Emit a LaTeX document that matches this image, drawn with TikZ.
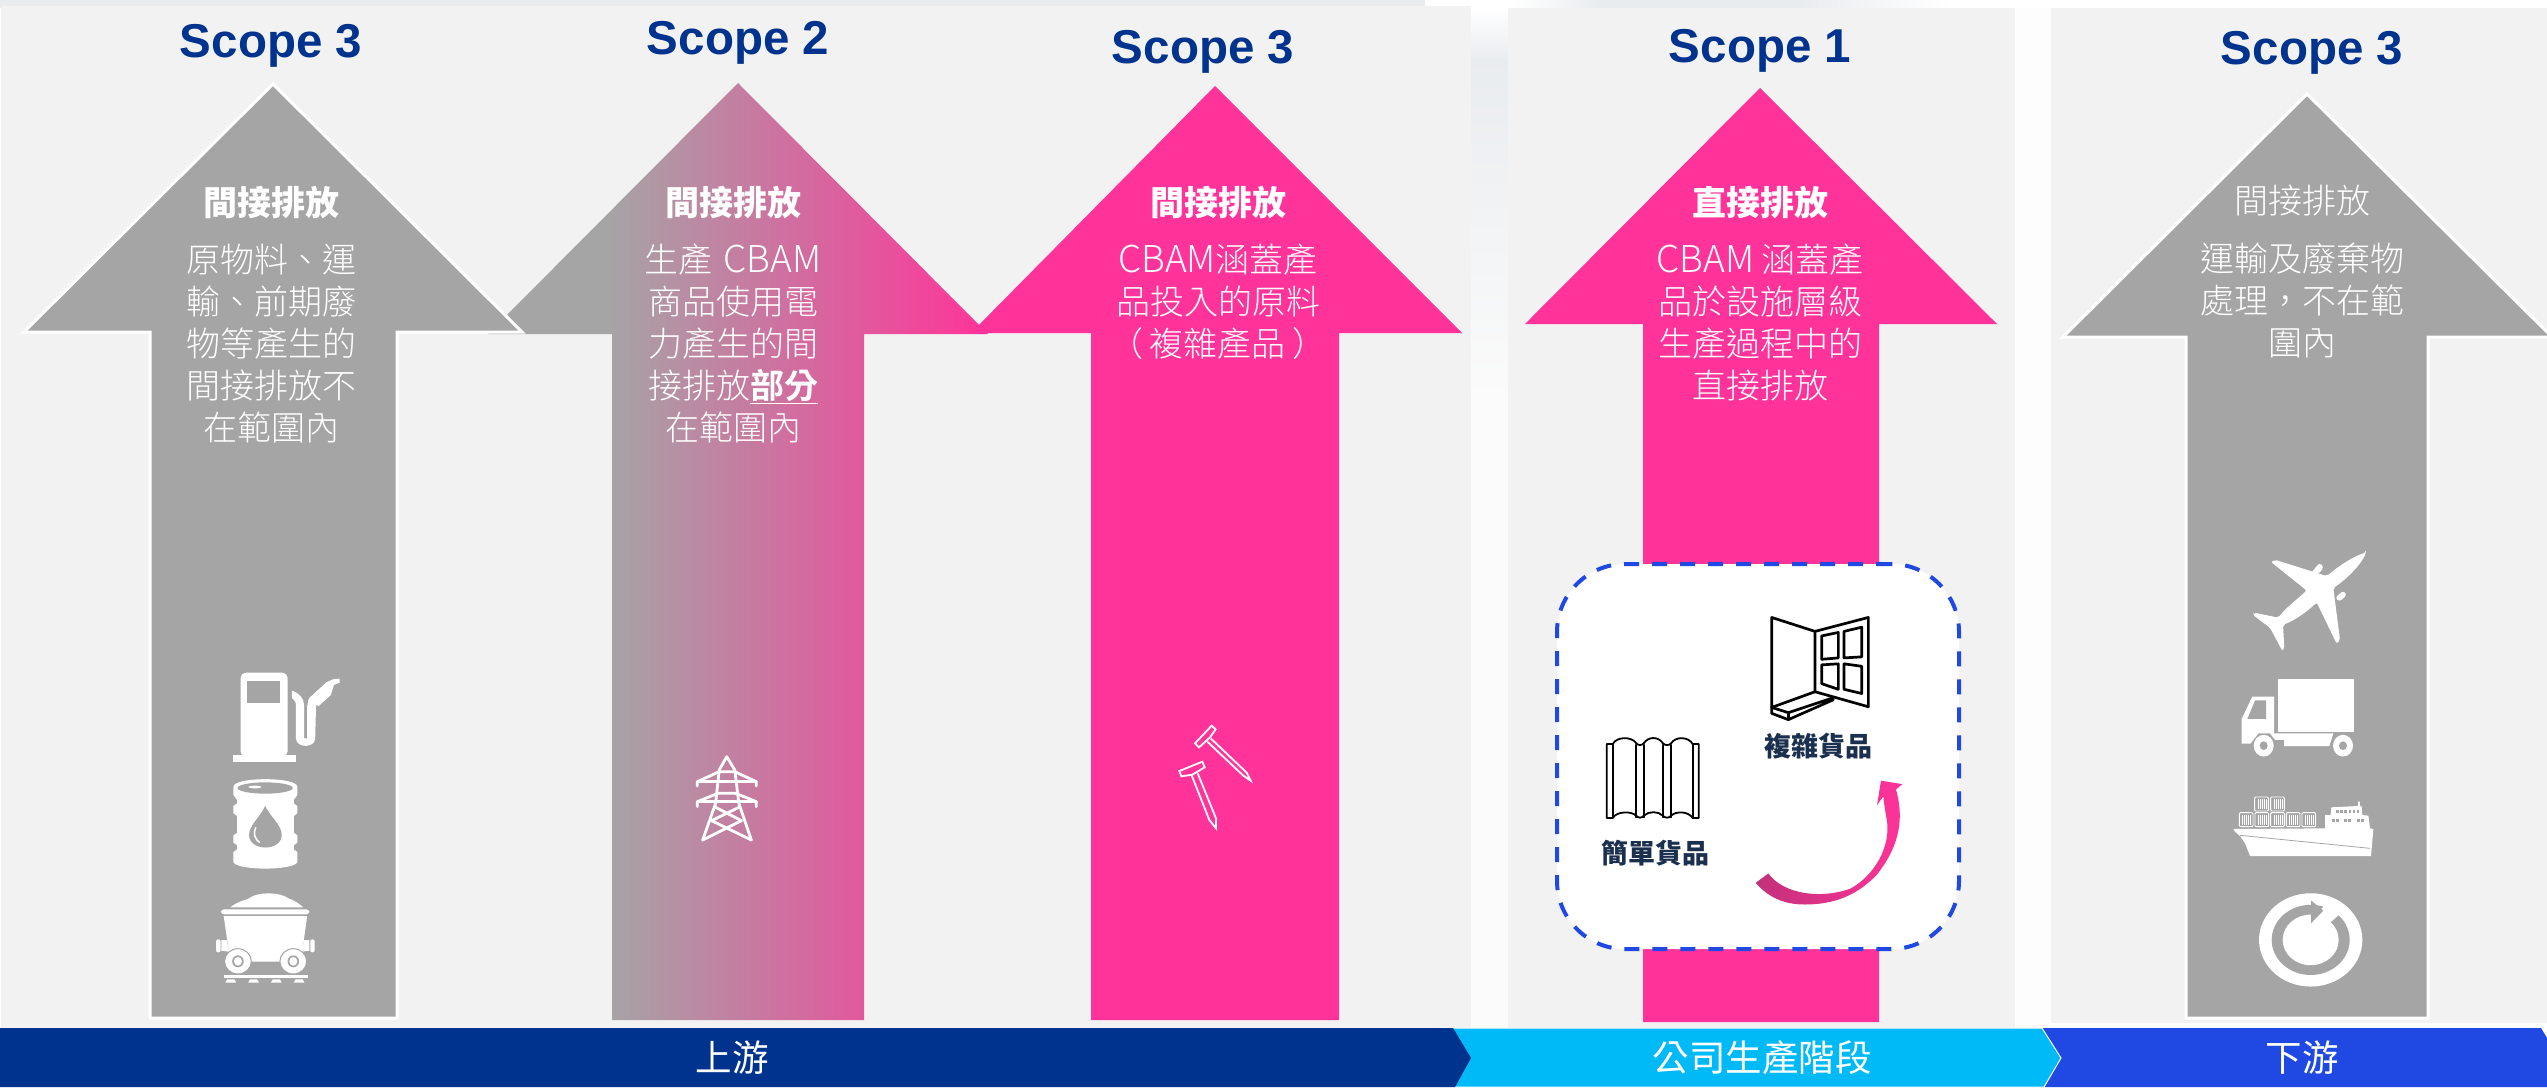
\documentclass[tikz,border=0pt]{standalone}
\usepackage{fontspec}
\setmainfont{Noto Sans CJK TC}
\newfontfamily\thinfont{Noto Sans CJK TC Light}
\newfontfamily\scopefont{Liberation Sans}
\definecolor{navy}{HTML}{00338D}
\definecolor{sky}{HTML}{00B9F7}
\definecolor{royal}{HTML}{1F49E2}
\definecolor{gy}{HTML}{A5A5A5}
\definecolor{pk}{HTML}{FF3399}
\definecolor{pale}{HTML}{F2F2F2}
\definecolor{ink}{HTML}{1B2F4E}
\definecolor{mist}{HTML}{E9ECEF}
\newcommand{\cbamword}{{\fontsize{37}{42}\selectfont CBAM}}
\pgfdeclarehorizontalshading{gypk}{100bp}{color(0bp)=(gy);color(37bp)=(gy);color(75bp)=(pk);color(100bp)=(pk)}
\tikzset{
  scopelabel/.style={anchor=base,inner sep=0pt,text=navy,font=\scopefont\bfseries\fontsize{47.5}{50}\selectfont},
  headtext/.style={anchor=center,inner sep=0pt,text=white,font=\bfseries\fontsize{34}{42}\selectfont},
  headthin/.style={anchor=center,inner sep=0pt,text=white,font=\thinfont\fontsize{34}{42}\selectfont},
  bodytext/.style={anchor=north,inner sep=0pt,text=white,align=center,font=\thinfont\fontsize{34}{42}\selectfont},
  barlabel/.style={anchor=center,inner sep=0pt,text=white,font=\fontsize{36.5}{40}\selectfont},
  goodslabel/.style={anchor=center,inner sep=0pt,text=ink,font=\bfseries\fontsize{27}{30}\selectfont},
  icon/.style={fill=white,draw=none},
  iconline/.style={draw=white,line width=3pt,line cap=round,line join=round},
  blackline/.style={draw=black,line join=round,line cap=round},
  cutout/.style={fill=gy,draw=none},
}
\begin{document}
\begin{tikzpicture}[x=1pt,y=-1pt]
\useasboundingbox (0,0) rectangle (2547,1087);
\fill[white] (0,0) rectangle (2547,1087);
% top strip and panels
\fill[mist] (0,0) rectangle (1425,8);
\shade[left color=white,right color=mist] (1510,0) rectangle (1600,8);
\fill[mist] (1600,0) rectangle (1800,8);
\shade[left color=mist,right color=white] (1800,0) rectangle (1950,8);
\fill[pale] (1,6) rectangle (1471,1028);
\shade[top color=white,bottom color=mist] (1471,8) rectangle (1508,60);
\shade[top color=mist,bottom color=white!70!pale] (1471,60) rectangle (1508,400);
\fill[white!70!pale] (1471,400) rectangle (1508,1028);
\fill[white!85!pale] (2015,8) rectangle (2051,1028);
\fill[pale] (1508,8) rectangle (2015,1028);
\fill[pale] (2051,8) rectangle (2547,1023);
% arrow 2, behind arrows 1 and 3
\path[shading=gypk] (738,83) -- (988,334) -- (864,334) -- (864,1020) -- (612,1020) -- (612,334) -- (488,334) -- cycle;
% arrow 3
\fill[pk] (1215,86) -- (1462,333) -- (1339,333) -- (1339,1020) -- (1091,1020) -- (1091,333) -- (971,333) -- cycle;
% arrow 1
\fill[gy,draw=white,line width=3pt,miter limit=10] (273,84) -- (522,332) -- (397,332) -- (397,1018) -- (150,1018) -- (150,332) -- (24,332) -- cycle;
% arrow 4
\fill[pk] (1760,88) -- (1997,324) -- (1879,324) -- (1879,1022) -- (1643,1022) -- (1643,324) -- (1525,324) -- cycle;
% arrow 5
\fill[gy,draw=white,line width=3pt,miter limit=10] (2307,94) -- (2552,337) -- (2428,337) -- (2428,1018) -- (2186,1018) -- (2186,337) -- (2063,337) -- cycle;
% bottom bars
\fill[royal] (2040,1028) -- (2541,1028) -- (2547,1038) -- (2547,1087) -- (2040,1087) -- cycle;
\fill[sky,draw=white,line width=1pt] (1440,1028) -- (2042,1028) -- (2061,1058) -- (2044,1087) -- (1440,1087) -- cycle;
\fill[navy] (0,1028) -- (1453,1028) -- (1471,1058) -- (1455,1087) -- (0,1087) -- cycle;
\node[barlabel] (barup) at (732,1058) {上游};
\node[barlabel] (barmid) at (1762,1058) {公司生產階段};
\node[barlabel] (bardown) at (2302,1058) {下游};
% scope titles
\node[scopelabel] (s1) at (271,57) {Scope 3};
\node[scopelabel] (s2) at (738,54) {Scope 2};
\node[scopelabel] (s3) at (1203,63) {Scope 3};
\node[scopelabel] (s4) at (1760,62) {Scope 1};
\node[scopelabel] (s5) at (2312,64) {Scope 3};
% heads
\node[headtext] (h1) at (271,203) {間接排放};
\node[headtext] (h2) at (733,203) {間接排放};
\node[headtext] (h3) at (1218,203) {間接排放};
\node[headtext] (h4) at (1760,203) {直接排放};
\node[headthin] (h5) at (2302,201) {間接排放};
% bodies
\node[bodytext] (b1) at (271,244) {原物料、運\\輸、前期廢\\物等產生的\\間接排放不\\在範圍內};
\node[bodytext] (b2) at (733,244) {生產\hspace{3pt} \cbamword\\商品使用電\\力產生的間\\接排放\underline{\bfseries 部分}\\在範圍內};
\node[bodytext] (b3) at (1218,244) {\cbamword 涵蓋產\\品投入的原料\\（\hspace{7pt}複雜產品\hspace{7pt}）};
\node[bodytext] (b4) at (1760,244) {\cbamword\ 涵蓋產\\品於設施層級\\生產過程中的\\直接排放};
\node[bodytext] (b5) at (2302,243) {運輸及廢棄物\\處理，不在範\\圍內};
% dashed box
\node[draw=royal,fill=white,line width=4pt,rounded corners=68pt,dash pattern=on 15pt off 13pt,minimum width=402pt,minimum height=385pt,inner sep=0pt] (goodsbox) at (1758,756.5) {};
\node[goodslabel] (g1) at (1818,746) {複雜貨品};
\node[goodslabel] (g2) at (1655,853) {簡單貨品};
% icons in zoom coordinates (goods box)
\begin{scope}[shift={(1500pt,-540pt)},x=0.33333pt,y=-0.3488pt]
  % window
  \draw[blackline,line width=2.7pt] (815,222) -- (945,262) -- (945,435) -- (815,480) -- cycle;
  \draw[blackline,line width=2.7pt] (945,262) -- (1105,222) -- (1105,478) -- (945,435);
  \draw[blackline,line width=2.7pt] (965,275) -- (1015,265) -- (1015,338) -- (965,342) -- cycle;
  \draw[blackline,line width=2.7pt] (1032,262) -- (1085,250) -- (1085,335) -- (1032,338) -- cycle;
  \draw[blackline,line width=2.7pt] (965,358) -- (1015,355) -- (1015,428) -- (965,412) -- cycle;
  \draw[blackline,line width=2.7pt] (1032,355) -- (1085,362) -- (1085,440) -- (1032,428) -- cycle;
  \draw[blackline,line width=2.7pt] (1000,452) -- (865,495) -- (815,480) -- (815,497) -- (865,515) -- (1000,458);
  \draw[blackline,line width=2.7pt] (865,495) -- (865,515);
  % sheet
  \draw[blackline,line width=1.8pt] (320,585) -- (338,585) .. controls (350,563) and (395,563) .. (408,582) .. controls (415,590) and (425,590) .. (432,582) .. controls (445,563) and (475,563) .. (488,582) .. controls (495,590) and (507,590) .. (514,582) .. controls (527,563) and (565,563) .. (578,585) -- (596,585) -- (596,797) -- (578,797) .. controls (565,777) and (527,777) .. (514,790) .. controls (507,798) and (495,798) .. (488,790) .. controls (475,777) and (445,777) .. (432,790) .. controls (425,798) and (415,798) .. (408,790) .. controls (395,777) and (350,777) .. (338,797) -- (320,797) -- cycle;
  \foreach \xv in {338,408,432,488,514,578} {\draw[blackline,line width=1.8pt] (\xv,587) -- (\xv,795);}
  % curved arrow
  \shade[left color=pk!75!black!95!white,right color=pk] (767,983) -- (805,956) .. controls (850,1015) and (960,1030) .. (1050,1000) .. controls (1120,965) and (1175,880) .. (1160,800) .. controls (1156,780) and (1152,755) .. (1150,735) -- (1131,760) -- (1143,690) -- (1207,700) -- (1188,715) .. controls (1210,790) and (1205,870) .. (1130,960) .. controls (1070,1020) and (1000,1045) .. (915,1045) .. controls (860,1045) and (810,1030) .. (767,983) -- cycle;
\end{scope}
% nails
\begin{scope}[shift={(1000pt,-680pt)},x=0.33333pt,y=-0.33333pt]
  \draw[draw=white,line width=1.8pt,line join=miter] (635,137) -- (647,148) -- (630,172) -- (597,202) -- (585,190) -- cycle;
  \draw[draw=white,line width=1.8pt,line join=miter] (622,185) -- (730,287) -- (752,302) -- (740,278) -- (632,175);
  \draw[draw=white,line width=1.8pt,line join=miter] (538,273) -- (607,245) -- (614,262) -- (577,284) -- (544,289) -- cycle;
  \draw[draw=white,line width=1.8pt,line join=miter] (575,286) -- (628,420) -- (648,445) -- (648,415) -- (593,280);
\end{scope}
% upstream icons
\begin{scope}[shift={(150pt,-630pt)},x=0.44643pt,y=-0.33333pt]
  % fuel pump
  \fill[icon,rounded corners=5pt] (203,380) -- (203,128) -- (308,128) -- (308,380) -- cycle;
  \fill[cutout] (218,152) rectangle (292,219);
  \fill[icon] (185,375) rectangle (327,397);
  \fill[icon] (318,182) .. controls (335,190) and (345,205) .. (345,225) -- (345,325) -- (352,325) -- (352,228) -- (356,205) -- (395,157) -- (410,148) -- (425,146) -- (425,158) -- (412,165) -- (405,195) -- (378,228) -- (372,224) -- (370,325) .. controls (370,355) and (327,355) .. (327,325) -- (327,225) .. controls (327,212) and (320,208) .. (318,204) -- cycle;
  % barrel
  \fill[icon] (187,470) .. controls (187,440) and (330,440) .. (330,470) -- (330,495) -- (322,510) -- (322,520) -- (330,528) -- (330,550) -- (322,558) -- (322,608) -- (330,616) -- (330,638) -- (322,646) -- (322,658) -- (330,666) -- (330,697) .. controls (320,722) and (197,722) .. (187,697) -- (187,666) -- (195,658) -- (195,646) -- (187,638) -- (187,616) -- (195,608) -- (195,558) -- (187,550) -- (187,528) -- (195,520) -- (195,510) -- (187,495) -- cycle;
  \fill[cutout] (258,474) ellipse [x radius=62,y radius=17];
  \fill[icon] (235,471) ellipse [x radius=15,y radius=4];
  \fill[cutout] (258,528) .. controls (245,565) and (222,585) .. (222,615) .. controls (222,665) and (295,665) .. (295,615) .. controls (295,585) and (272,565) .. (258,528) -- cycle;
  \draw[draw=white,line width=1.5pt] (237,592) .. controls (230,610) and (235,628) .. (246,638);
  % mine cart
  \fill[icon] (180,832) .. controls (195,815) and (210,812) .. (222,805) .. controls (240,785) and (290,785) .. (310,805) .. controls (325,812) and (335,822) .. (343,832) -- cycle;
  \fill[icon,rounded corners=3pt] (159,838) rectangle (357,853);
  \fill[icon] (165,858) -- (352,858) -- (338,995) -- (180,995) -- cycle;
  \fill[icon,rounded corners=2pt] (148,928) rectangle (158,967);
  \fill[icon] (160,930) -- (172,930) -- (177,965) -- (160,962) -- cycle;
  \fill[icon,rounded corners=2pt] (359,928) rectangle (369,967);
  \fill[icon] (345,930) -- (357,930) -- (357,962) -- (340,965) -- cycle;
  \fill[icon,draw=gy,line width=1pt] (197,994) ellipse [x radius=30,y radius=38];
  \fill[cutout] (197,994) ellipse [x radius=13,y radius=18];
  \fill[icon] (197,994) ellipse [x radius=9,y radius=13];
  \fill[icon,draw=gy,line width=1pt] (321,994) ellipse [x radius=30,y radius=38];
  \fill[cutout] (321,994) ellipse [x radius=13,y radius=18];
  \fill[icon] (321,994) ellipse [x radius=9,y radius=13];
  \fill[icon] (165,1034) rectangle (354,1044);
  \foreach \xv in {181,232,283,334} {\fill[icon] (\xv-12,1058) -- (\xv-8,1048) -- (\xv+8,1048) -- (\xv+12,1058) -- cycle;}
  % pylon
  \begin{scope}[iconline/.append style={line width=2.8pt}]
  \draw[iconline] (1238,630) -- (1267,520) -- (1275,420) -- (1292,380) -- (1310,420) -- (1319,520) -- (1347,630);
  \draw[iconline] (1226,468) -- (1226,455) -- (1275,425) -- (1310,425) -- (1358,455) -- (1358,468);
  \draw[iconline] (1226,455) -- (1358,455);
  \draw[iconline] (1226,530) -- (1226,515) -- (1272,490) -- (1312,490) -- (1358,515) -- (1358,530);
  \draw[iconline] (1226,515) -- (1358,515);
  \draw[iconline] (1267,532) -- (1325,572) -- (1238,630);
  \draw[iconline] (1319,532) -- (1258,572) -- (1347,630);
  \end{scope}
\end{scope}
% downstream icons
\begin{scope}[shift={(2100pt,-520pt)},x=0.33333pt,y=-0.36166pt]
  % plane
  \fill[icon,rounded corners=2pt] (798,90) .. controls (760,100) and (720,125) .. (680,155) -- (525,110) -- (513,116) -- (620,195) .. controls (590,220) and (555,245) .. (535,270) -- (462,256) -- (458,262) -- (510,298) -- (547,362) -- (553,355) -- (549,290) .. controls (590,275) and (625,250) .. (650,228) -- (710,342) -- (720,332) -- (700,188) .. controls (745,160) and (785,120) .. (798,90) -- cycle;
  \fill[icon,rounded corners=3pt] (633,147) -- (658,118) -- (672,130) -- (655,150) -- cycle;
  \fill[icon,rounded corners=3pt] (705,215) -- (730,195) -- (741,207) -- (718,226) -- cycle;
  % truck
  \fill[icon] (534,440) rectangle (762,586);
  \fill[icon] (425,618) -- (425,550) -- (457,488) -- (522,488) -- (522,590) -- (700,590) -- (688,625) -- (552,625) -- (552,608) -- (525,608) -- (510,590) -- (475,590) -- (452,618) -- cycle;
  \fill[cutout] (442,550) -- (465,499) -- (498,499) -- (498,550) -- cycle;
  \fill[icon] (491,624) circle [x radius=30,y radius=30];
  \fill[cutout] (491,624) circle [x radius=12,y radius=12];
  \fill[icon] (729,624) circle [x radius=30,y radius=30];
  \fill[cutout] (729,624) circle [x radius=12,y radius=12];
  % recycle
  \fill[icon] (632,1161) ellipse [x radius=155,y radius=129];
  \fill[cutout] (632,1161) ellipse [x radius=117,y radius=97];
  \fill[icon] (632,1161) ellipse [x radius=84,y radius=70];
  \fill[icon] (640,1112) -- (665,1075) -- (690,1050) -- (735,1065) -- (715,1093) -- (692,1112) -- (665,1130) -- cycle;
  \fill[cutout] (633,1052) -- (670,1080) -- (633,1115) -- cycle;
\end{scope}
% ship
\begin{scope}[shift={(2200pt,-760pt)},x=0.33333pt,y=-0.33333pt]
  \fill[icon] (100,207) -- (375,205) -- (375,165) -- (392,165) -- (394,142) -- (473,138) -- (475,124) -- (479,124) -- (480,138) -- (485,140) -- (487,165) -- (505,167) -- (510,205) -- (520,208) -- (513,288) -- (150,288) -- (135,250) -- (120,228) -- (105,215) -- cycle;
  \draw[draw=gy,line width=0.8pt] (120,226) -- (510,265);
  \foreach \xv in {408,420,432,446,458,470} {\fill[cutout] (\xv,151) rectangle +(8,8);}
  \foreach \xv in {397,409,433,445,471,484} {\fill[cutout] (\xv,178) rectangle +(8,8);}
  \foreach \xv/\yv in {118/158,165/158,212/158,259/158,306/158,164/111,212/111} {
    \draw[draw=white,line width=0.9pt,rounded corners=1pt] (\xv,\yv) rectangle +(41,42);
    \foreach \k in {10,16,22,28,34} {\draw[draw=white,line width=0.6pt] (\xv+\k,\yv+6) -- (\xv+\k,\yv+36);}
  }
\end{scope}
\end{tikzpicture}
\end{document}
